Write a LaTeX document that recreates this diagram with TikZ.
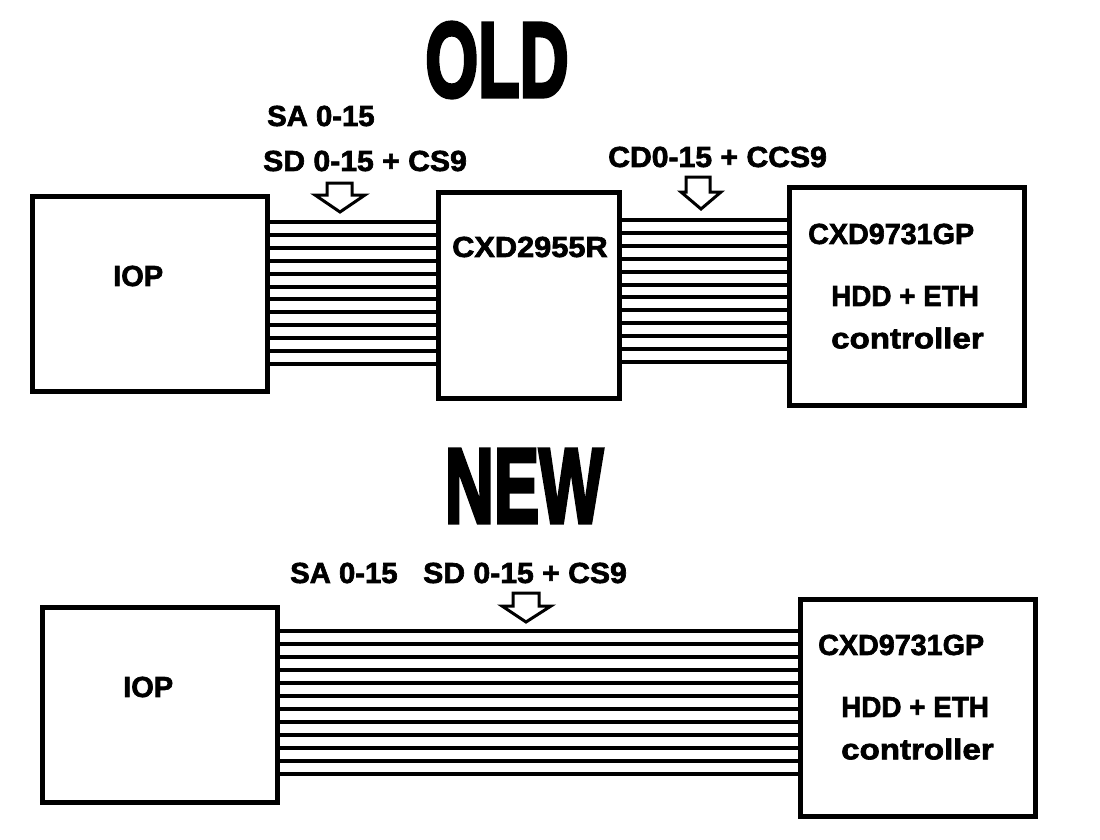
\documentclass[tikz,border=0pt]{standalone}
\usepackage{fontspec}
\setmainfont{Liberation Sans}
\newfontfamily\lblfont[FakeBold=2.2]{Liberation Sans Bold}
\newfontfamily\bigfont[FakeBold=4]{Liberation Sans Bold}
\begin{document}
\begin{tikzpicture}[x=1pt,y=-1pt,
  box/.style={draw,line width=5pt,inner sep=0pt},
  wire/.style={line width=4pt},
  harrow/.style={draw,line width=3pt,fill=white,line join=miter},
  lbl/.style={anchor=west,inner sep=0pt,font=\lblfont\fontsize{29}{29}\selectfont},
  big/.style={inner sep=0pt,font=\bigfont\fontsize{106}{106}\selectfont,xscale=0.64}]
\useasboundingbox (0,0) rectangle (1100,840);
\fill[white] (0,0) rectangle (1100,840);
% OLD
\node[big] (old) at (497,60) {OLD};
\node[box,minimum width=235pt,minimum height=195pt] (iop1) at (150,294) {};
\node[box,minimum width=181pt,minimum height=206pt] (cxd2955) at (529,295.5) {};
\node[box,minimum width=235pt,minimum height=218pt] (cxd97a) at (907,296.5) {};
\foreach \i in {0,...,11}{
  \draw[wire] (iop1.east |- 0,{222+\i*12.9}) -- (cxd2955.west |- 0,{222+\i*12.9});
  \draw[wire] (cxd2955.east |- 0,{220+\i*12.9}) -- (cxd97a.west |- 0,{220+\i*12.9});
}
\draw[harrow] (327,183) -- (352,183) -- (352,195) -- (365,195) -- (340,212) -- (315,195) -- (327,195) -- cycle;
\draw[harrow] (686,177) -- (710,177) -- (710,192) -- (721,192) -- (701,209) -- (681,192) -- (686,192) -- cycle;
\node[lbl,xscale=1.01] (sa1) at (267,116) {SA 0-15};
\node[lbl,xscale=1.04] (sd1) at (263,161) {SD 0-15 + CS9};
\node[lbl,xscale=1.04] (cd1) at (608,157) {CD0-15 + CCS9};
\node[lbl,xscale=1.06] (t2955) at (452,247) {CXD2955R};
\node[lbl] (tiop1) at (113,276) {IOP};
\node[lbl,xscale=0.99] (t97a) at (808,234) {CXD9731GP};
\node[lbl,xscale=0.96] (hdd1) at (831,296) {HDD + ETH};
\node[lbl,xscale=1.14] (ctl1) at (831,338) {controller};
% NEW
\node[big] (new) at (524,486) {NEW};
\node[box,minimum width=235pt,minimum height=195pt] (iop2) at (160,705) {};
\node[box,minimum width=235pt,minimum height=217pt] (cxd97b) at (917.5,707.5) {};
\foreach \i in {0,...,11}{
  \draw[wire] (iop2.east |- 0,{631+\i*13}) -- (cxd97b.west |- 0,{631+\i*13});
}
\draw[harrow] (513,593) -- (539,593) -- (539,606) -- (551,606) -- (526,622) -- (502,606) -- (513,606) -- cycle;
\node[lbl,xscale=1.01] (sa2) at (290,573) {SA 0-15};
\node[lbl,xscale=1.04] (sd2) at (423,573) {SD 0-15 + CS9};
\node[lbl] (tiop2) at (123,687) {IOP};
\node[lbl,xscale=0.99] (t97b) at (818,645) {CXD9731GP};
\node[lbl,xscale=0.96] (hdd2) at (841,707) {HDD + ETH};
\node[lbl,xscale=1.14] (ctl2) at (841,749) {controller};
\end{tikzpicture}
\end{document}
